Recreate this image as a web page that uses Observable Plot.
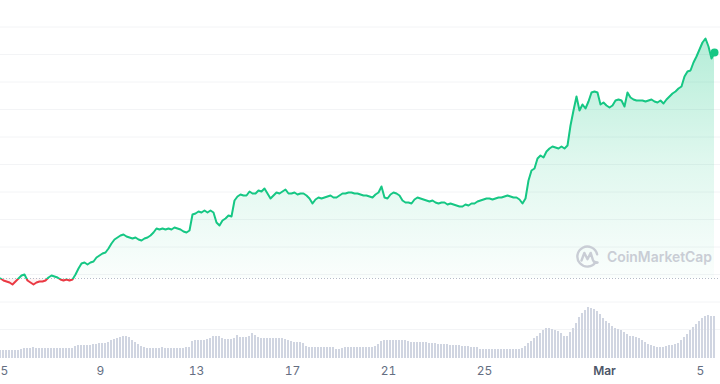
<!DOCTYPE html>
<html><head><meta charset="utf-8">
<script src="https://cdn.jsdelivr.net/npm/d3@7"></script>
<script src="https://cdn.jsdelivr.net/npm/@observablehq/plot@0.6"></script>
<style>
html,body{margin:0;padding:0;background:#fff;}
#wrap{position:relative;width:720px;height:384px;overflow:hidden;font-family:Inter,"Noto Sans",sans-serif;}
#wrap svg{position:absolute;left:0;top:0;}
</style></head><body><div id="wrap"></div>
<script>
// 3-hourly series, starting 2024-02-04 20:00 UTC
const startTime = Date.UTC(2024, 1, 4, 20);
const stepHours = 3;

const prices = [
  100.4,100.0,99.8,99.6,99.2,99.8,100.4,101.0,101.2,100.0,
  99.6,99.2,99.6,99.8,99.8,100.0,100.6,101.0,100.8,100.6,
  100.2,100.0,100.2,100.0,100.2,101.2,102.4,103.4,103.6,103.2,
  103.6,103.8,104.6,105.0,105.4,105.6,106.4,107.4,108.2,108.6,
  109.0,109.2,108.8,108.6,108.4,108.6,108.2,108.0,108.4,108.6,
  109.0,109.6,110.4,110.2,110.4,110.2,110.4,110.2,110.6,110.4,
  110.2,109.8,109.6,110.0,113.2,113.4,113.8,113.6,114.0,113.6,
  114.0,113.6,111.6,111.0,112.0,112.4,113.0,112.8,116.0,116.8,
  117.2,117.0,117.0,117.8,117.4,117.4,118.0,117.8,118.4,117.4,
  116.4,117.0,117.6,117.4,117.8,118.2,117.4,117.4,117.6,117.2,
  117.4,117.4,117.0,116.4,115.4,116.2,116.6,116.4,116.6,116.8,
  117.0,116.6,116.6,117.0,117.4,117.4,117.6,117.6,117.4,117.4,
  117.2,117.0,117.0,116.8,116.6,117.2,117.6,118.8,116.6,116.4,
  117.2,117.6,117.4,117.0,116.0,115.6,115.6,115.4,116.2,116.6,
  116.4,116.2,116.0,115.8,116.0,115.6,115.4,115.6,115.6,115.2,
  115.4,115.2,115.0,114.8,114.8,115.2,115.0,115.4,115.4,115.8,
  116.0,116.2,116.4,116.4,116.2,116.4,116.6,116.6,116.8,117.0,
  116.8,116.6,116.6,116.2,115.4,116.4,120.0,122.0,122.4,124.4,
  125.0,124.6,125.8,126.4,126.8,126.6,126.4,126.8,126.4,127.0,
  131.0,134.0,136.8,134.0,135.2,134.4,135.8,137.6,137.8,137.6,
  135.2,135.6,135.0,134.6,135.0,136.0,136.2,136.0,134.8,137.6,
  136.6,136.2,136.0,136.0,136.0,135.8,136.0,136.2,135.8,135.6,
  136.0,135.4,136.2,136.8,137.4,137.8,138.4,138.8,140.8,141.8,
  142.0,143.6,144.8,146.2,147.6,148.4,146.8,144.4,145.6
];

const volumes = [
  8,8,8,8,8,8,8,9,
  10,10,10,11,10,10,10,10,10,10,10,10,10,10,10,10,10,
  12,13,13,13,13,13,14,14,
  15,15,15,16,18,
  19,20,21,22,22,21,
  18,16,14,12,11,10,
  10,10,10,10,11,10,10,10,10,10,10,10,11,11,
  17,18,18,18,18,19,20,
  22,22,22,
  20,19,19,19,20,23,
  21,21,21,22,25,
  23,21,20,20,20,20,20,20,20,20,19,18,
  17,16,16,16,15,
  12,11,11,11,11,11,11,11,11,11,
  9,9,10,
  11,11,11,11,11,11,11,11,11,11,12,14,
  17,18,18,18,18,18,18,18,18,17,
  16,16,16,16,16,16,15,
  15,15,14,14,14,14,13,13,13,13,12,12,12,11,11,11,
  9,9,9,9,9,9,9,9,9,9,9,9,9,9,10,
  12,15,17,20,22,25,
  28,30,30,29,
  28,27,25,22,
  22,26,30,35,
  41,45,48,51,50,
  49,47,44,
  40,37,35,32,30,29,
  28,26,24,22,22,21,
  20,18,16,14,13,
  12,11,11,11,12,13,13,
  14,15,18,21,24,28,
  31,34,37,40,42,43,42,42
];

const gridPrices = [90.2,95.7,101.2,106.7,112.2,117.7,123.2,128.7,134.2,139.7,145.2,150.7];
const tickDates = ["2024-02-05","2024-02-09","2024-02-13","2024-02-17","2024-02-21","2024-02-25","2024-03-01","2024-03-05"];
const tickLabels = ["5","9","13","17","21","25","Mar","5"];

const GREEN = "#16c784", RED = "#ea3943";
const W = 720, H = 384;

const data = prices.map((p, i) => ({
  t: new Date(startTime + i * stepHours * 3600e3),
  price: p,
  volume: volumes[i]
}));
const base = prices[0];
const xDomain = [data[0].t, data[data.length - 1].t];
const tickTimes = tickDates.map(d => new Date(d + "T00:00:00Z"));

const pricePlot = Plot.plot({
  width: W, height: H,
  marginLeft: 0, marginRight: 0, marginTop: 0, marginBottom: 20,
  style: {background: "#fff", fontFamily: "Inter, 'Noto Sans', sans-serif", fontSize: "12px", color: "#646e82"},
  x: {type: "utc", domain: xDomain, range: [0, 714], ticks: tickTimes,
      tickFormat: d => tickLabels[tickTimes.findIndex(t => +t === +d)], tickSize: 0, tickPadding: 2, label: null},
  y: {domain: [90, 156], range: [330, 0], axis: null},
  marks: [
    Plot.ruleY(gridPrices, {stroke: "#f3f4f6", strokeWidth: 1}),
    Plot.areaY(data, {x: "t", y1: base, y2: "price", fill: "url(#cmcAreaGrad)"}),
    Plot.ruleY([base], {stroke: "#b5bcc8", strokeWidth: 1, strokeDasharray: "1,2"}),
    Plot.line(data, {x: "t", y: "price", stroke: "url(#cmcLineGrad)", strokeWidth: 2, strokeLinejoin: "round"}),
    Plot.dot([data[data.length - 1]], {x: "t", y: "price", r: 4, fill: GREEN, stroke: "none"})
  ]
});

// gradients positioned through the y scale
const ys = pricePlot.scale("y");
const yTop = ys.apply(d3.max(prices));
const yBot = ys.apply(d3.min(prices));
const yBase = ys.apply(base);
const f = (yBase - yTop) / (yBot - yTop);
const defs = d3.select(pricePlot).insert("defs", ":first-child");
const ag = defs.append("linearGradient").attr("id", "cmcAreaGrad")
  .attr("gradientUnits", "userSpaceOnUse").attr("x1", 0).attr("x2", 0).attr("y1", yTop).attr("y2", yBot);
[[0, GREEN, 0.32], [f * 0.5, GREEN, 0.14], [f, GREEN, 0.02], [f, RED, 0.03], [1, RED, 0.12]].forEach(([o, c, op]) =>
  ag.append("stop").attr("offset", o).attr("stop-color", c).attr("stop-opacity", op));
const lg = defs.append("linearGradient").attr("id", "cmcLineGrad")
  .attr("gradientUnits", "userSpaceOnUse").attr("x1", 0).attr("x2", 0).attr("y1", yTop).attr("y2", yBot);
[[0, GREEN], [f, GREEN], [f, RED], [1, RED]].forEach(([o, c]) =>
  lg.append("stop").attr("offset", o).attr("stop-color", c));

d3.select(pricePlot).selectAll("text")
  .filter(function () { return this.textContent === "Mar"; })
  .attr("font-weight", 600).attr("fill", "#4d5668");

const volPlot = Plot.plot({
  width: W, height: H, margin: 0,
  style: {background: "transparent"},
  x: {type: "utc", domain: xDomain, range: [0, 714], axis: null},
  y: {domain: [0, 60], range: [358, 298], axis: null},
  marks: [
    Plot.rectY(data, {
      x1: d => new Date(+d.t - 1.5 * 3600e3),
      x2: d => new Date(+d.t + 1.5 * 3600e3),
      y1: 0, y2: "volume",
      fill: "#d0d5e1", insetLeft: 0.5, insetRight: 0.5
    })
  ]
});

const wrap = document.getElementById("wrap");
wrap.appendChild(pricePlot);
wrap.appendChild(volPlot);

// CoinMarketCap watermark
const wm = d3.select(wrap).append("svg").attr("width", W).attr("height", H);
const logo = wm.append("g").attr("transform", "translate(587.5,256.5)")
  .attr("fill", "none").attr("stroke", "#c9cdd5").attr("stroke-width", 2.4)
  .attr("stroke-linecap", "round").attr("stroke-linejoin", "round");
logo.append("path").attr("d", "M 8.2,5.6 A 10,10 0 1 1 9.6,-2.2");
logo.append("path").attr("d", "M -6,4 L -3.2,-3.6 L 0,2.8 L 3.2,-3.6 L 5.4,3.4 Q 7,7 10,6");
wm.append("text").attr("x", 607).attr("y", 262)
  .attr("font-family", "Inter, 'Noto Sans', sans-serif").attr("font-weight", 600)
  .attr("font-size", 14).attr("textLength", 105).attr("lengthAdjust", "spacingAndGlyphs")
  .attr("fill", "#c9cdd5").text("CoinMarketCap");
</script>
</body></html>
